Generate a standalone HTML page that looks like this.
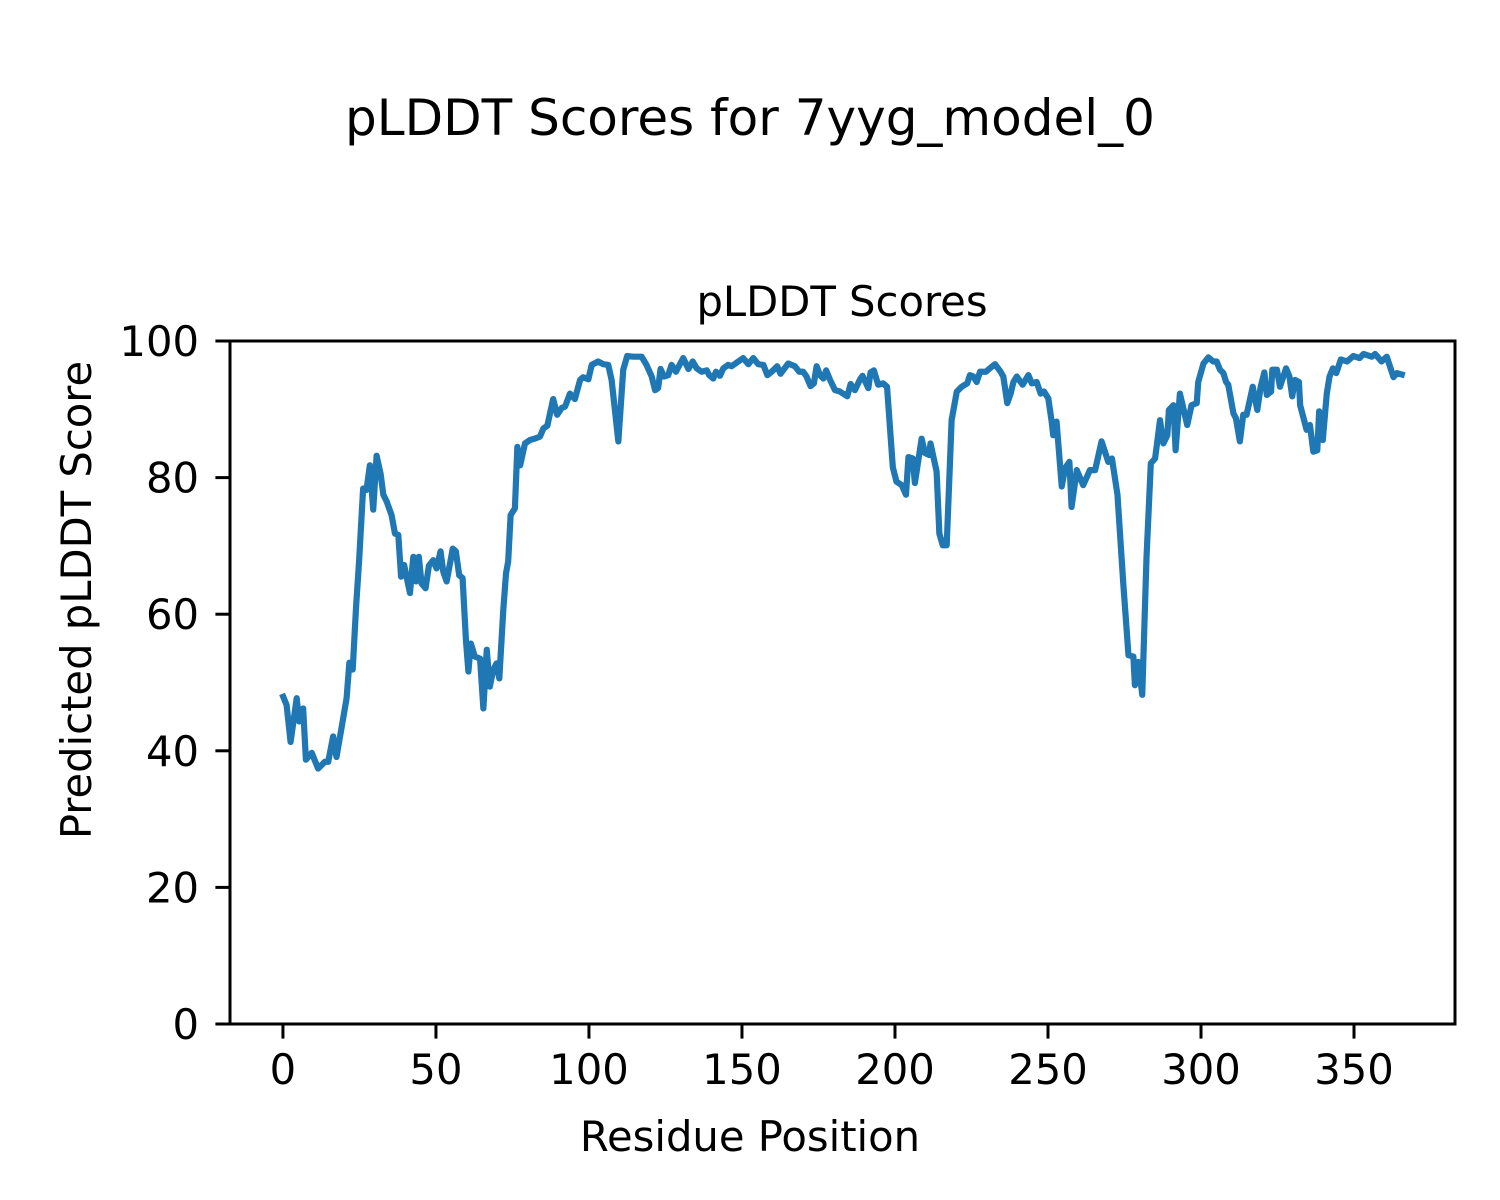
<!DOCTYPE html>
<html>
<head>
<meta charset="utf-8">
<style>
  html, body { margin: 0; padding: 0; background: #fff; }
  svg { display: block; }
  text { font-family: "DejaVu Sans", "Liberation Sans", sans-serif; fill: #000; }
</style>
</head>
<body>
<svg id="chart" width="1500" height="1200" viewBox="0 0 1500 1200" xmlns="http://www.w3.org/2000/svg">
  <rect x="0" y="0" width="1500" height="1200" fill="#fff"/>
  <text x="750" y="135" font-size="50" text-anchor="middle">pLDDT Scores for 7yyg_model_0</text>
  <text x="842" y="316" font-size="41.7" text-anchor="middle">pLDDT Scores</text>
  <g id="xticks"></g>
  <g id="yticks"></g>
  <g id="series"></g>
  <rect x="230" y="341" width="1225" height="683" fill="none" stroke="#000" stroke-width="3"/>
  <text x="750" y="1151" font-size="41.7" text-anchor="middle">Residue Position</text>
  <text x="0" y="0" font-size="41.7" text-anchor="middle" transform="translate(91,600) rotate(-90)">Predicted pLDDT Score</text>
</svg>
<script>
const residuePositions = [0.1,1.2,2.5,4.5,5.3,6.6,7.5,9.4,11.5,13.7,14.8,16.4,17.5,19.2,20.8,21.7,22.8,23.9,24.9,26.2,27.3,28.4,29.5,30.6,31.9,32.8,33.9,35.5,36.6,37.7,38.6,39.6,41.5,42.6,43.5,44.4,45.3,46.6,47.7,49.1,50.2,51.5,52.4,53.5,55.5,56.5,57.6,58.7,59.8,60.6,61.4,62.7,64.4,65.5,66.6,67.6,68.7,69.8,70.7,72,72.9,73.6,74.4,75.8,76.6,77.5,79.1,80.7,82.3,84,85.1,86.4,88.3,89.6,91.1,92.2,93.8,95.4,97.1,98.1,99.8,100.9,103,104.7,106.3,107.4,109.6,111.2,112.5,114.5,117.2,118.8,120.5,121.6,122.6,123.4,124.5,125.9,127,128.4,130.8,132.5,133.9,135.2,136.8,138.5,139.3,140.6,141.5,142.8,143.9,145.5,146.6,148.8,150.4,152.1,153.7,155.3,157,158.3,159.7,161.5,162.6,165.1,167.3,168.7,170,171.1,172.4,173.5,174.4,175.5,176.6,177.5,178.8,180.4,182,184.4,185.5,186.9,188.6,189.4,191.3,192,193.1,194.5,196.1,197.4,199.3,200.5,202.2,203.6,204.4,205.8,206.5,208.7,209.8,211.2,211.6,213.6,214.5,215.6,216.9,218,218.5,220.2,221.8,223.6,224.5,225.6,226.7,227.8,229.7,231,232.7,234.5,235.4,236.7,237.8,238.7,239.8,241.7,243.6,244.7,246.3,247.6,248.7,250.1,251.2,251.7,252.8,254.5,255.6,257,257.7,259.4,261.5,263.7,265.4,267.5,269.7,270.9,272.7,274.6,276.3,277.9,278.4,279.5,280.8,282.2,283.6,285,286.6,287.7,289,289.5,291,291.7,293.1,295.5,296.9,298.6,299.1,300.8,302.4,304,305.1,306.2,307.3,308.2,308.9,310.6,311.4,312.7,313.8,314.9,316.9,318.4,319.5,320.7,321.5,322.9,323.3,324.8,325.8,327.8,328.9,329.8,330.7,332,332.4,333.8,334.5,335.6,336.7,338,338.6,339.8,341.1,342,343.1,344.2,345.7,347.7,349.8,351.8,353.1,355.8,356.9,359,360.7,362.9,364,365.6];
const plddtScores = [47.9,46.7,41.3,47.7,44.3,46.2,38.7,39.7,37.4,38.4,38.4,42.1,39.1,43.5,47.7,52.9,51.9,61.1,67.9,78.4,78.2,81.8,75.3,83.2,80.6,77.5,76.5,74.5,71.8,71.6,65.5,67.2,63.1,68.4,64.8,68.4,64.5,63.8,67.1,67.9,66.7,69.2,66.2,64.8,69.6,69.2,65.7,65.3,56.2,51.6,55.7,53.8,53.5,46.2,54.8,49.4,51.8,52.8,50.6,60.6,66,67.7,74.5,75.5,84.5,81.8,85,85.5,85.7,86,87.2,87.6,91.5,89.2,90.2,90.4,92.3,91.5,94.3,94.7,94.4,96.5,97,96.6,96.5,94.3,85.3,95.8,97.8,97.7,97.7,96.5,94.8,92.8,93.1,95.9,94.8,95,96.5,95.5,97.5,95.9,97,96,95.5,95.7,95,94.5,95.5,94.9,96,96.5,96.3,97,97.5,96.6,97.5,96.6,96.5,95,95.5,96.3,95.2,96.7,96.3,95.5,95.5,94.8,93.4,93.8,96.3,95,94.5,95.7,94.3,92.8,92.6,91.9,93.7,92.8,94.4,94.9,93.1,95.4,95.7,93.6,93.8,93.3,81.5,79.4,78.9,77.5,83,82.8,79.2,85.7,83.6,83.3,85,80.9,71.8,70.1,70.1,82.6,88.4,92.6,93.3,93.8,95,94.8,94,95.5,95.5,96,96.6,95.5,94.8,90.9,92.3,94,94.8,93.6,95,93.8,94,92.3,92.6,91.6,88.2,86.2,88.2,78.7,81.4,82.3,75.7,81.1,78.9,81.1,81.1,85.3,82.3,82.8,77.5,64.5,54,53.8,49.6,53,48.2,68.4,82.1,82.8,88.4,85,86.2,89.9,90.6,84,92.3,87.7,90.6,90.9,94,96.7,97.6,97,97,95.8,95.3,94,93.6,89.4,88.7,85.3,89.2,89.2,93.3,89.9,93.3,95.4,92.1,92.6,95.8,95.8,93.3,96,94.8,91.9,94.3,94,90.6,88.2,87,87.7,83.8,84,89.7,85.5,92.3,94.8,96,95.3,97.3,97,97.8,97.5,98.1,97.7,98.1,97,97.7,94.7,95.3,95.1];
const xTickValues = [0, 50, 100, 150, 200, 250, 300, 350];
const yTickValues = [0, 20, 40, 60, 80, 100];

const X0 = 230, X1 = 1455, Y0 = 1024, Y1 = 341;
const xMin = -17.3, xMax = 383.0, yMin = 0, yMax = 100;
function xScale(v) { return X0 + (v - xMin) / (xMax - xMin) * (X1 - X0); }
function yScale(v) { return Y0 - (v - yMin) / (yMax - yMin) * (Y0 - Y1); }

const NS = 'http://www.w3.org/2000/svg';
const xg = document.getElementById('xticks');
xTickValues.forEach(function (t) {
  const x = xScale(t);
  const ln = document.createElementNS(NS, 'line');
  ln.setAttribute('x1', x); ln.setAttribute('x2', x);
  ln.setAttribute('y1', Y0); ln.setAttribute('y2', Y0 + 14.6);
  ln.setAttribute('stroke', '#000'); ln.setAttribute('stroke-width', '3');
  
  
  xg.appendChild(ln);
  const tx = document.createElementNS(NS, 'text');
  tx.setAttribute('x', x); tx.setAttribute('y', 1084);
  tx.setAttribute('font-size', '41.7'); tx.setAttribute('text-anchor', 'middle');
  tx.textContent = String(t);
  
  
  xg.appendChild(tx);
});
const yg = document.getElementById('yticks');
yTickValues.forEach(function (t) {
  const y = yScale(t);
  const ln = document.createElementNS(NS, 'line');
  ln.setAttribute('x1', X0 - 14.6); ln.setAttribute('x2', X0);
  ln.setAttribute('y1', y); ln.setAttribute('y2', y);
  ln.setAttribute('stroke', '#000'); ln.setAttribute('stroke-width', '3');
  
  
  yg.appendChild(ln);
  const tx = document.createElementNS(NS, 'text');
  tx.setAttribute('x', 199); tx.setAttribute('y', y + 15);
  tx.setAttribute('font-size', '41.7'); tx.setAttribute('text-anchor', 'end');
  tx.textContent = String(t);
  
  
  yg.appendChild(tx);
});
const sg = document.getElementById('series');
let d = '';
for (let i = 0; i < residuePositions.length; i++) {
  d += (i === 0 ? 'M' : 'L') + xScale(residuePositions[i]).toFixed(2) + ',' + yScale(plddtScores[i]).toFixed(2);
}
const path = document.createElementNS(NS, 'path');
path.setAttribute('d', d);
path.setAttribute('fill', 'none');
path.setAttribute('stroke', '#1f77b4');
path.setAttribute('stroke-width', '6.2');
path.setAttribute('stroke-linejoin', 'round');
path.setAttribute('stroke-linecap', 'square');


sg.appendChild(path);
</script>
</body>
</html>
